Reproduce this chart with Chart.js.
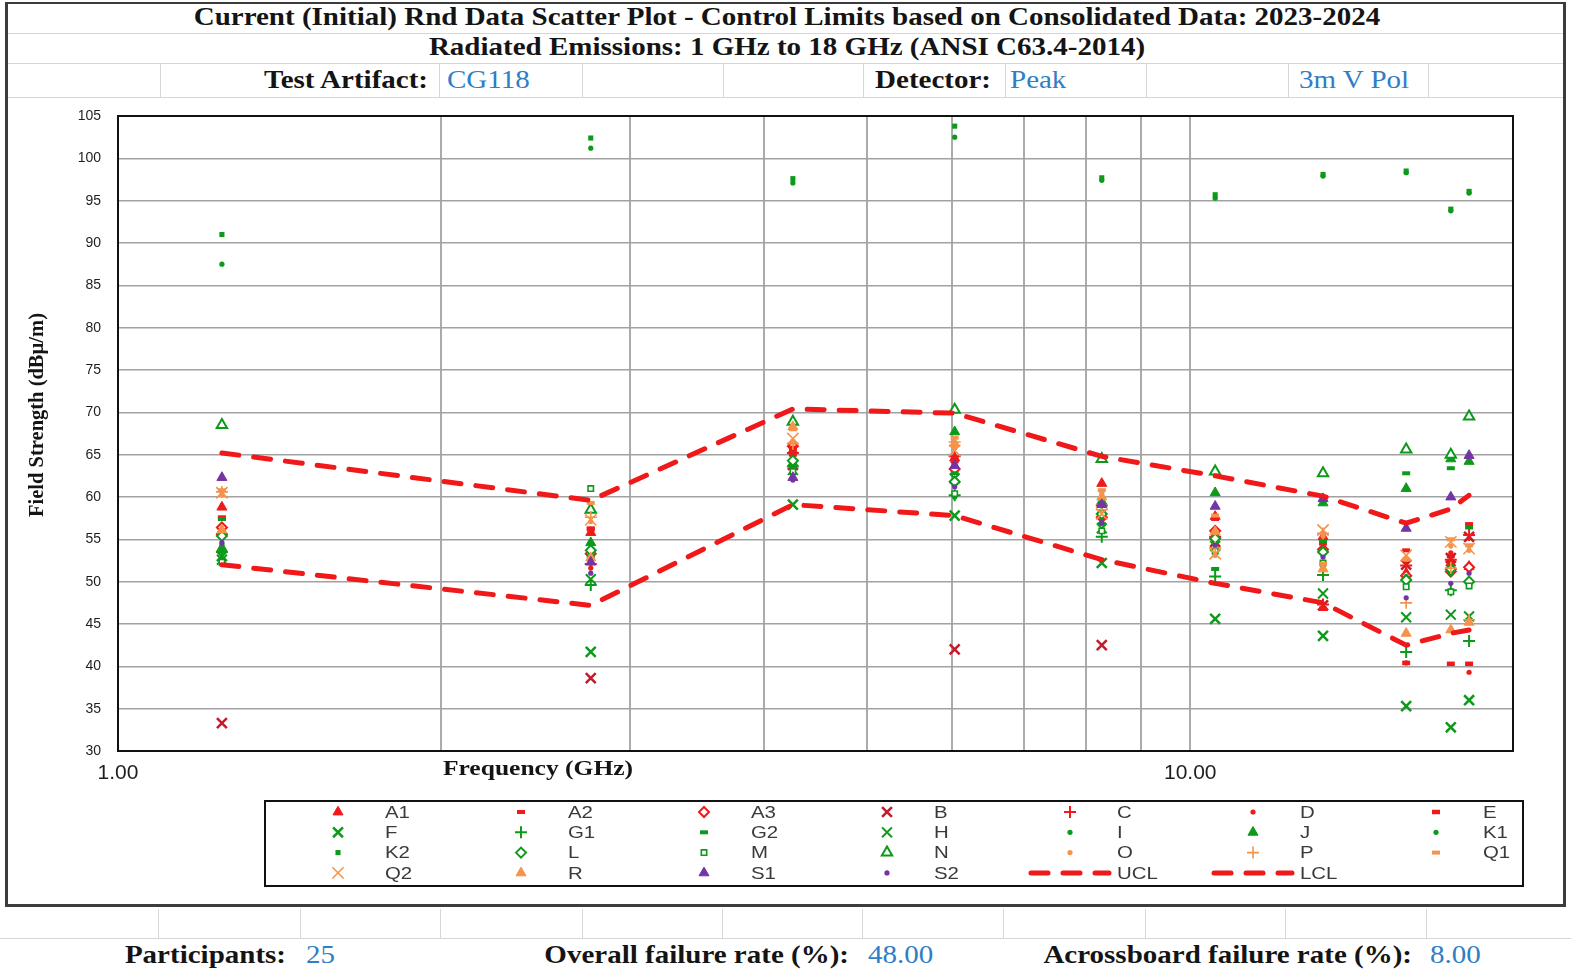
<!DOCTYPE html>
<html>
<head>
<meta charset="utf-8">
<title>Rnd Data Scatter Plot</title>
<script src="https://cdn.jsdelivr.net/npm/chart.js@4/dist/chart.umd.min.js"></script>
<style>
  html, body { margin: 0; padding: 0; background: #fff; }
  body { width: 1571px; height: 969px; position: relative; overflow: hidden;
         font-family: "Liberation Serif", "Times New Roman", serif; }
  .hl { position: absolute; height: 1px; background: #d6d6d6; }
  .vl { position: absolute; width: 1px; background: #d6d6d6; }
  #frame { position: absolute; left: 5px; top: 2px; width: 1561px; height: 905px;
           box-sizing: border-box; border: 3px solid #3c3c3c; border-top-width: 2px; }
  .lbl { position: absolute; font-weight: bold; font-size: 25px; color: #141414;
         white-space: nowrap; line-height: 30px; height: 30px; transform: scaleX(1.16); }
  .val { position: absolute; font-size: 25px; color: #2f7ec6; transform-origin: left center;
         white-space: nowrap; line-height: 30px; height: 30px; transform: scaleX(1.16); }
  .ctr { text-align: center; transform-origin: center center; }
  .rgt { text-align: right; transform-origin: right center; }
  #chartBox { position: absolute; left: 0; top: 0; width: 1571px; height: 969px; }
</style>
</head>
<body>
<!-- worksheet grid -->
<div class="hl" style="left:8px;top:33px;width:1555px"></div>
<div class="hl" style="left:8px;top:63px;width:1555px"></div>
<div class="hl" style="left:8px;top:97px;width:1555px"></div>
<div class="vl" style="left:160px;top:63px;height:34px"></div>
<div class="vl" style="left:439px;top:63px;height:34px"></div>
<div class="vl" style="left:582px;top:63px;height:34px"></div>
<div class="vl" style="left:723px;top:63px;height:34px"></div>
<div class="vl" style="left:863px;top:63px;height:34px"></div>
<div class="vl" style="left:1005px;top:63px;height:34px"></div>
<div class="vl" style="left:1146px;top:63px;height:34px"></div>
<div class="vl" style="left:1288px;top:63px;height:34px"></div>
<div class="vl" style="left:1428px;top:63px;height:34px"></div>

<div class="hl" style="left:0;top:938px;width:1571px"></div>
<div class="vl" style="left:158px;top:909px;height:29px"></div>
<div class="vl" style="left:300px;top:909px;height:29px"></div>
<div class="vl" style="left:440px;top:909px;height:29px"></div>
<div class="vl" style="left:582px;top:909px;height:29px"></div>
<div class="vl" style="left:722px;top:909px;height:29px"></div>
<div class="vl" style="left:862px;top:909px;height:29px"></div>
<div class="vl" style="left:1003px;top:909px;height:29px"></div>
<div class="vl" style="left:1145px;top:909px;height:29px"></div>
<div class="vl" style="left:1285px;top:909px;height:29px"></div>
<div class="vl" style="left:1426px;top:909px;height:29px"></div>

<div id="frame"></div>

<!-- headings -->
<div class="lbl ctr" style="left:0;width:1574px;top:2px">Current (Initial) Rnd Data Scatter Plot - Control Limits based on Consolidated Data: 2023-2024</div>
<div class="lbl ctr" style="left:0;width:1574px;top:32px">Radiated Emissions: 1 GHz to 18 GHz (ANSI C63.4-2014)</div>

<div class="lbl rgt" style="left:160px;width:268px;top:65px">Test Artifact:</div>
<div class="val" style="left:447px;top:65px">CG118</div>
<div class="lbl rgt" style="left:723px;width:268px;top:65px">Detector:</div>
<div class="val" style="left:1010px;top:65px">Peak</div>
<div class="val" style="left:1299px;top:65px">3m V Pol</div>

<div class="lbl rgt" style="left:0;width:286px;top:940px">Participants:</div>
<div class="val" style="left:306px;top:940px">25</div>
<div class="lbl rgt" style="left:300px;width:549px;top:940px">Overall failure rate (%):</div>
<div class="val" style="left:868px;top:940px">48.00</div>
<div class="lbl rgt" style="left:862px;width:550px;top:940px">Acrossboard failure rate (%):</div>
<div class="val" style="left:1430px;top:940px">8.00</div>

<div id="chartBox"><canvas id="chart" width="1571" height="969"></canvas></div>

<script>
// Test frequencies (GHz)
const freqs = [1.25, 2.76, 4.26, 6.03, 8.27, 10.55, 13.3, 15.9, 17.5, 18.2];

// Field strength per participant (dBµV/m), one value per test frequency
const A1 = [58.8, 55.8, 65.5, 64.6, 61.6, 57.7, 55.3, 51.0, 52.2, 51.8];
const A2 = [57.6, 56.3, 65.0, 64.2, 58.3, 57.4, 54.5, 53.7, 53.0, 56.8];
const A3 = [56.4, 53.3, 66.0, 63.3, 57.6, 56.0, 53.8, 50.7, 51.2, 51.7];
const B  = [33.3, 38.6, 63.8, 42.0, 42.5, 54.7, 47.2, 52.0, 52.8, 55.3];
const C  = [55.6, 52.1, 65.2, 64.8, 59.0, 55.3, 47.3, 51.9, 52.6, 55.5];
const D  = [56.0, 51.6, 64.7, 63.9, 57.3, 54.9, 54.0, 40.4, 53.4, 39.3];
const E  = [57.5, 56.2, 65.8, 64.4, 57.9, 55.5, 46.8, 40.4, 40.3, 40.3];
const F  = [53.0, 41.7, 59.1, 57.8, 52.2, 45.6, 43.6, 35.3, 32.8, 36.0];
const G1 = [53.5, 49.6, 63.6, 60.2, 55.3, 50.6, 50.8, 41.7, 49.0, 43.0];
const G2 = [57.4, 53.0, 64.2, 62.8, 56.8, 51.5, 54.8, 62.8, 63.4, 56.4];
const H  = [52.6, 50.3, 63.2, 62.2, 56.3, 54.2, 48.6, 45.8, 46.1, 45.9];
const I  = [54.4, 52.6, 62.9, 60.0, 57.7, 53.8, 51.9, 50.6, 50.9, 50.3];
const J  = [54.0, 54.6, 64.0, 67.7, 59.5, 60.5, 59.3, 61.0, 64.5, 64.2];
const K1 = [87.5, 101.2, 97.1, 102.5, 97.4, 95.3, 97.9, 98.3, 93.8, 95.9];
const K2 = [91.0, 102.4, 97.6, 103.8, 97.7, 95.7, 98.1, 98.5, 94.0, 96.1];
const L  = [55.4, 53.7, 64.3, 61.8, 58.0, 55.1, 53.5, 50.2, 51.5, 50.0];
const M  = [52.3, 61.0, 63.0, 60.4, 56.0, 53.6, 52.2, 49.4, 48.8, 49.5];
const N  = [68.5, 58.5, 68.9, 70.3, 64.5, 63.0, 62.8, 65.6, 65.0, 69.5];
const O  = [60.3, 57.1, 66.6, 65.8, 60.4, 53.1, 55.4, 52.8, 54.2, 53.7];
const P  = [60.6, 57.6, 66.3, 66.5, 58.5, 54.0, 55.7, 47.5, 51.6, 45.5];
const Q1 = [60.8, 59.3, 68.0, 67.0, 60.8, 57.8, 52.1, 52.6, 55.0, 54.3];
const Q2 = [60.5, 57.3, 66.9, 65.5, 58.0, 53.3, 56.1, 53.1, 54.7, 53.9];
const R  = [56.1, 52.8, 68.3, 66.3, 60.0, 55.9, 51.5, 43.9, 44.3, 45.2];
const S1 = [62.3, 52.3, 62.3, 63.7, 59.1, 58.9, 59.8, 56.3, 60.0, 64.9];
const S2 = [54.6, 51.0, 62.0, 61.2, 57.0, 54.3, 52.9, 48.1, 49.8, 51.0];

// Control limits from the consolidated 2023-2024 data
const UCL = [65.2, 59.6, 70.4, 69.9, 64.8, 62.5, 60.1, 56.9, 58.6, 60.2];
const LCL = [52.0, 47.2, 59.1, 57.8, 52.6, 49.8, 47.5, 42.5, 43.9, 44.3];

// Axis ticks
const yTickValues = [30, 35, 40, 45, 50, 55, 60, 65, 70, 75, 80, 85, 90, 95, 100, 105];
const xGridValues = [1, 2, 3, 4, 5, 6, 7, 8, 9, 10, 20];
const xTickLabels = { 1: '1.00', 10: '10.00' };

const participants = { A1, A2, A3, B, C, D, E, F, G1, G2, H, I, J, K1, K2, L, M, N, O, P, Q1, Q2, R, S1, S2 };

// Marker styles
const RED = '#ef1b1b', DKRED = '#c41a2a', GREEN = '#0d9a1a', ORANGE = '#f5934a', PURPLE = '#7434a6';
const styles = {
  A1: { c: RED,    s: 'triangle', r: 5.8, fill: true,  bw: 1 },
  A2: { c: RED,    s: 'line',     r: 4,   bw: 4 },
  A3: { c: RED,    s: 'rectRot',  r: 5,   fill: false, bw: 2 },
  B:  { c: DKRED,  s: 'crossRot', r: 7,   bw: 2.5 },
  C:  { c: RED,    s: 'cross',    r: 6,   bw: 2 },
  D:  { c: RED,    s: 'circle',   r: 2.6, fill: true,  bw: 0 },
  E:  { c: RED,    s: 'line',     r: 4,   bw: 4.5 },
  F:  { c: GREEN,  s: 'crossRot', r: 7,   bw: 2.5 },
  G1: { c: GREEN,  s: 'cross',    r: 6,   bw: 2 },
  G2: { c: GREEN,  s: 'line',     r: 4,   bw: 4 },
  H:  { c: GREEN,  s: 'crossRot', r: 7,   bw: 2 },
  I:  { c: GREEN,  s: 'circle',   r: 2.6, fill: true,  bw: 0 },
  J:  { c: GREEN,  s: 'triangle', r: 5.8, fill: true,  bw: 1 },
  K1: { c: GREEN,  s: 'circle',   r: 2.6, fill: true,  bw: 0 },
  K2: { c: GREEN,  s: 'rect',     r: 3.6, fill: true,  bw: 0 },
  L:  { c: GREEN,  s: 'rectRot',  r: 5,   fill: false, bw: 2 },
  M:  { c: GREEN,  s: 'rect',     r: 3.8, fill: false, bw: 1.6 },
  N:  { c: GREEN,  s: 'triangle', r: 6,   fill: false, bw: 2 },
  O:  { c: ORANGE, s: 'circle',   r: 2.6, fill: true,  bw: 0 },
  P:  { c: ORANGE, s: 'cross',    r: 6,   bw: 1.6 },
  Q1: { c: ORANGE, s: 'line',     r: 4,   bw: 4 },
  Q2: { c: ORANGE, s: 'crossRot', r: 8,   bw: 1.6 },
  R:  { c: ORANGE, s: 'triangle', r: 5.8, fill: true,  bw: 1 },
  S1: { c: PURPLE, s: 'triangle', r: 5.8, fill: true,  bw: 1 },
  S2: { c: PURPLE, s: 'circle',   r: 2.6, fill: true,  bw: 0 }
};

const toPoints = vals => freqs.map((f, i) => ({ x: f, y: vals[i] }));

const datasets = Object.keys(participants).map((name, idx) => {
  const st = styles[name];
  const bg = st.fill === false ? '#ffffff' : st.c;
  return {
    label: name,
    data: toPoints(participants[name]),
    showLine: false,
    pointStyle: st.s,
    pointRadius: st.r,
    pointHoverRadius: st.r,
    pointBorderWidth: st.bw,
    pointBackgroundColor: bg,
    pointBorderColor: st.c,
    order: 100 - idx
  };
});

const limitLine = (name, vals) => ({
  label: name,
  data: toPoints(vals),
  showLine: true,
  borderColor: '#f01818',
  borderWidth: 5,
  borderDash: [17, 15],
  borderCapStyle: 'round',
  tension: 0,
  pointRadius: 0,
  pointHoverRadius: 0,
  order: -1
});
datasets.push(limitLine('UCL', UCL), limitLine('LCL', LCL));

// Text drawn with a horizontal stretch, anchored at (x, y)
function stretchedText(ctx, text, x, y, sx) {
  ctx.save();
  ctx.translate(x, y);
  ctx.scale(sx, 1);
  ctx.fillText(text, 0, 0);
  ctx.restore();
}

// Plot-area frame, axis titles and the boxed legend grid
const decorations = {
  id: 'decorations',
  beforeDatasetsDraw(chart) {
    const { ctx, chartArea: a } = chart;
    ctx.save();
    ctx.strokeStyle = '#111';
    ctx.lineWidth = 2;
    ctx.strokeRect(a.left, a.top, a.right - a.left, a.bottom - a.top);
    ctx.restore();
  },
  afterDraw(chart) {
    const ctx = chart.ctx;
    ctx.save();
    // axis titles
    ctx.fillStyle = '#141414';
    ctx.textAlign = 'center';
    ctx.textBaseline = 'middle';
    ctx.font = 'bold 22px "Liberation Serif"';
    stretchedText(ctx, 'Frequency (GHz)', 538, 769, 1.16);
    ctx.save();
    ctx.translate(38, 415);
    ctx.rotate(-Math.PI / 2);
    ctx.font = 'bold 20.5px "Liberation Serif"';
    ctx.fillText('Field Strength (dBµ/m)', 0, 0);
    ctx.restore();

    // legend
    ctx.strokeStyle = '#111';
    ctx.lineWidth = 2;
    ctx.strokeRect(265, 801, 1258, 85);
    ctx.textAlign = 'left';
    ctx.font = '17px "Liberation Sans"';
    chart.data.datasets.forEach((ds, i) => {
      const col = i % 7, row = Math.floor(i / 7);
      const mx = 338 + col * 183, tx = 385 + col * 183, y = 812 + row * 20.3;
      if (ds.showLine) {
        ctx.save();
        ctx.strokeStyle = ds.borderColor;
        ctx.lineWidth = ds.borderWidth;
        ctx.lineCap = 'round';
        ctx.setLineDash(ds.borderDash);
        ctx.beginPath();
        ctx.moveTo(mx - 39, y);
        ctx.lineTo(mx + 39, y);
        ctx.stroke();
        ctx.restore();
      } else {
        ctx.save();
        ctx.fillStyle = ds.pointBackgroundColor;
        ctx.strokeStyle = ds.pointBorderColor;
        ctx.lineWidth = ds.pointBorderWidth;
        Chart.helpers.drawPoint(ctx, {
          pointStyle: ds.pointStyle, radius: ds.pointRadius,
          borderWidth: ds.pointBorderWidth, rotation: 0
        }, mx, y);
        ctx.restore();
      }
      ctx.fillStyle = '#3a3a3a';
      stretchedText(ctx, ds.label, tx, y + 1, 1.2);
    });
    ctx.restore();
  }
};

new Chart(document.getElementById('chart'), {
  type: 'scatter',
  data: { datasets },
  options: {
    responsive: false,
    animation: false,
    events: [],
    layout: { padding: { left: 58, right: 58, top: 116, bottom: 178 } },
    plugins: { legend: { display: false }, tooltip: { enabled: false } },
    scales: {
      x: {
        type: 'logarithmic',
        min: 1, max: 20,
        afterBuildTicks: s => { s.ticks = xGridValues.map(v => ({ value: v })); },
        afterFit: s => { s.height = 40; },
        ticks: {
          autoSkip: false, maxRotation: 0, padding: 10,
          color: '#1e1e1e', font: { family: 'Liberation Sans', size: 21 },
          callback: v => xTickLabels[v] || ''
        },
        grid: { color: '#ababab', lineWidth: 2, drawTicks: false },
        border: { display: true, color: '#111', width: 2 }
      },
      y: {
        min: 30, max: 105,
        afterBuildTicks: s => { s.ticks = yTickValues.map(v => ({ value: v })); },
        afterFit: s => { s.width = 60; },
        ticks: {
          padding: 17, color: '#1e1e1e',
          font: { family: 'Liberation Sans', size: 14 }
        },
        grid: { color: '#a2a2a2', lineWidth: 1.5, drawTicks: false },
        border: { display: true, color: '#111', width: 2 }
      }
    }
  },
  plugins: [decorations]
});
</script>
</body>
</html>
